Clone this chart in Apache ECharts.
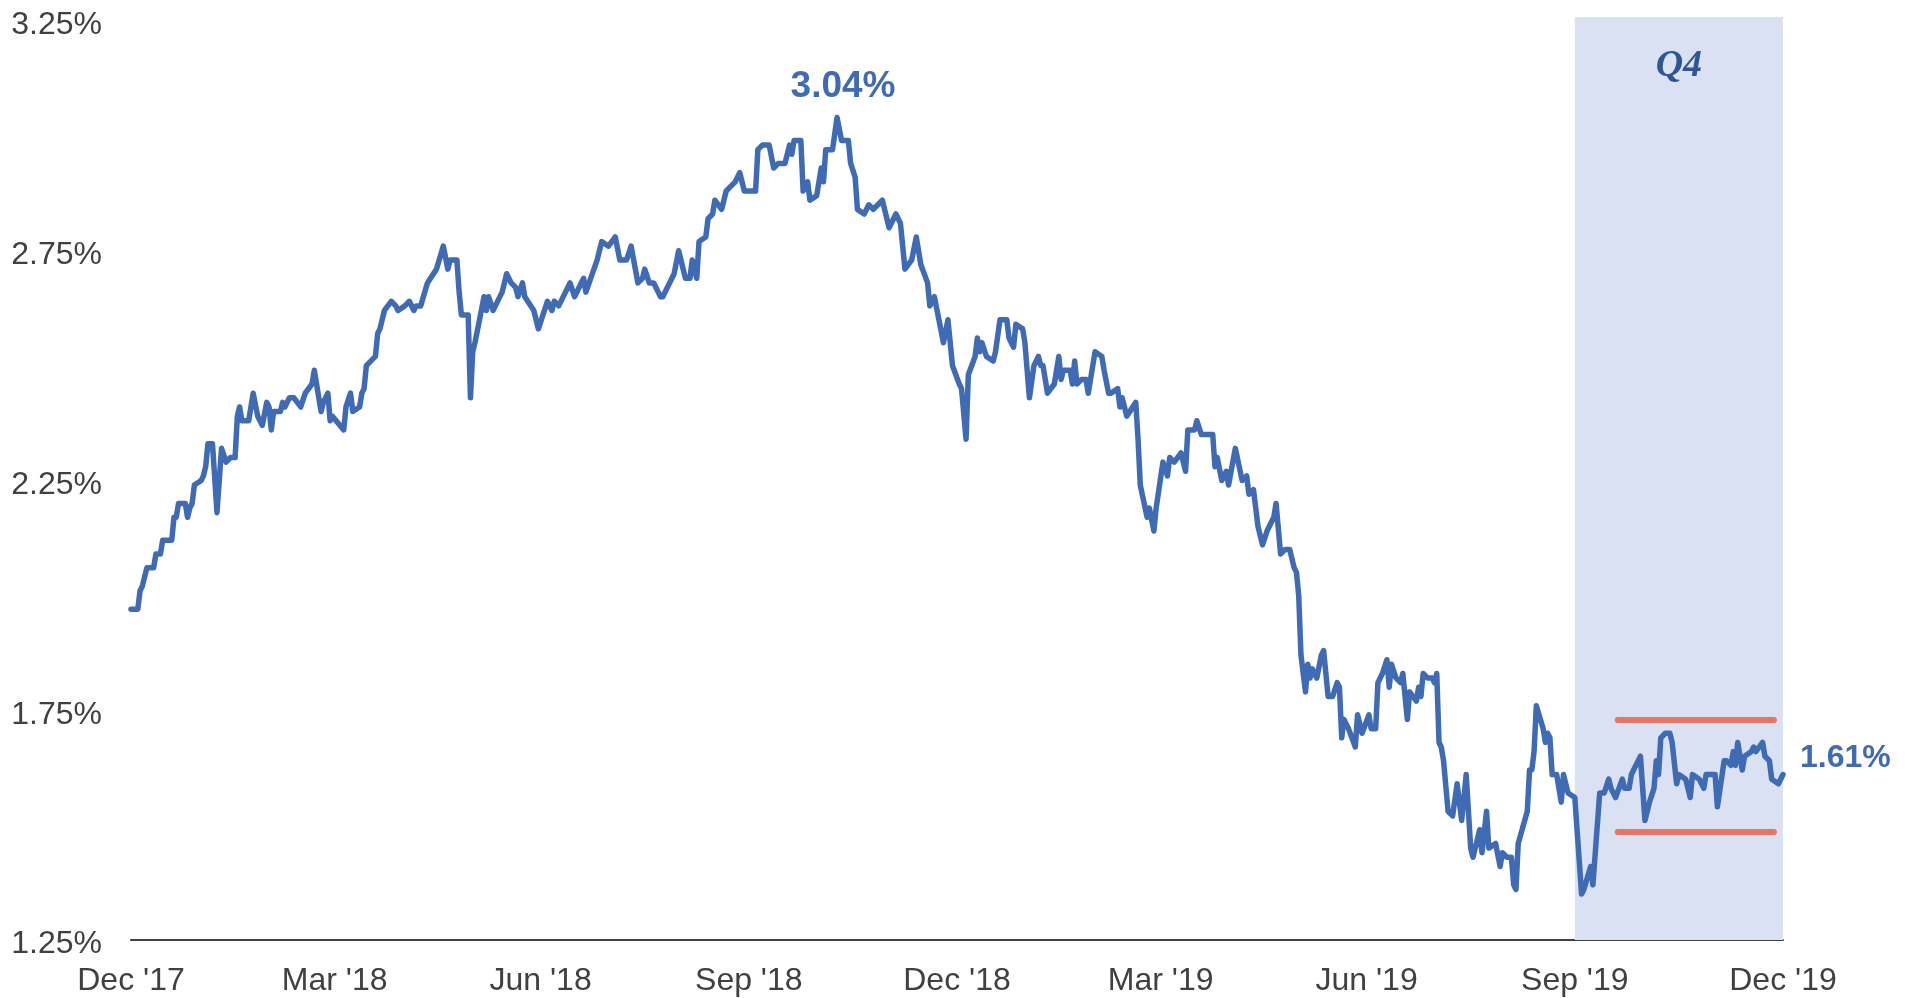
<!DOCTYPE html>
<html>
<head>
<meta charset="utf-8">
<script src="https://cdn.jsdelivr.net/npm/echarts@6/dist/echarts.min.js"></script>
<style>
  html, body { margin: 0; padding: 0; background: #ffffff; }
  #chart { width: 1916px; height: 998px; }
</style>
</head>
<body>
<div id="chart"></div>
<script>
// Yield history, Dec 2017 – Dec 2019 (percent)
const dates = [
  '2017-12-31','2018-01-03','2018-01-04','2018-01-05','2018-01-07','2018-01-10','2018-01-11','2018-01-13','2018-01-14','2018-01-18',
  '2018-01-19','2018-01-20','2018-01-21','2018-01-24','2018-01-25','2018-01-26','2018-01-27','2018-01-28','2018-01-31','2018-02-01',
  '2018-02-02','2018-02-03','2018-02-05','2018-02-07','2018-02-09','2018-02-11','2018-02-13','2018-02-15','2018-02-16','2018-02-17',
  '2018-02-18','2018-02-21','2018-02-23','2018-02-25','2018-02-27','2018-03-01','2018-03-02','2018-03-03','2018-03-04','2018-03-07',
  '2018-03-08','2018-03-09','2018-03-11','2018-03-13','2018-03-16','2018-03-18','2018-03-21','2018-03-22','2018-03-25','2018-03-26',
  '2018-03-28','2018-03-29','2018-03-30','2018-04-04','2018-04-05','2018-04-07','2018-04-08','2018-04-11','2018-04-12','2018-04-13',
  '2018-04-14','2018-04-18','2018-04-19','2018-04-20','2018-04-22','2018-04-25','2018-04-27','2018-04-28','2018-05-01','2018-05-03',
  '2018-05-05','2018-05-06','2018-05-08','2018-05-11','2018-05-15','2018-05-18','2018-05-20','2018-05-21','2018-05-24','2018-05-25',
  '2018-05-26','2018-05-29','2018-05-30','2018-05-31','2018-06-01','2018-06-03','2018-06-05','2018-06-06','2018-06-07','2018-06-09',
  '2018-06-10','2018-06-13','2018-06-15','2018-06-17','2018-06-19','2018-06-20','2018-06-22','2018-06-23','2018-06-27','2018-06-29',
  '2018-07-01','2018-07-03','2018-07-05','2018-07-06','2018-07-08','2018-07-11','2018-07-13','2018-07-15','2018-07-19','2018-07-20',
  '2018-07-25','2018-07-27','2018-07-30','2018-08-02','2018-08-04','2018-08-07','2018-08-09','2018-08-12','2018-08-14','2018-08-15',
  '2018-08-17','2018-08-19','2018-08-22','2018-08-23','2018-08-25','2018-08-28','2018-08-30','2018-09-02','2018-09-04','2018-09-05',
  '2018-09-07','2018-09-08','2018-09-11','2018-09-12','2018-09-14','2018-09-15','2018-09-18','2018-09-20','2018-09-22','2018-09-24',
  '2018-09-26','2018-09-28','2018-10-03','2018-10-04','2018-10-06','2018-10-09','2018-10-11','2018-10-13','2018-10-16','2018-10-18',
  '2018-10-19','2018-10-20','2018-10-23','2018-10-24','2018-10-26','2018-10-27','2018-10-30','2018-11-01','2018-11-02','2018-11-03',
  '2018-11-06','2018-11-08','2018-11-10','2018-11-13','2018-11-14','2018-11-16','2018-11-17','2018-11-20','2018-11-22','2018-11-24',
  '2018-11-28','2018-12-01','2018-12-04','2018-12-06','2018-12-08','2018-12-11','2018-12-13','2018-12-15','2018-12-18','2018-12-19',
  '2018-12-21','2018-12-25','2018-12-27','2018-12-29','2019-01-01','2019-01-02','2019-01-04','2019-01-05','2019-01-08','2019-01-09',
  '2019-01-10','2019-01-11','2019-01-13','2019-01-16','2019-01-17','2019-01-19','2019-01-22','2019-01-23','2019-01-25','2019-01-26',
  '2019-01-29','2019-01-30','2019-02-01','2019-02-03','2019-02-05','2019-02-06','2019-02-07','2019-02-09','2019-02-12','2019-02-14',
  '2019-02-15','2019-02-16','2019-02-19','2019-02-20','2019-02-21','2019-02-22','2019-02-24','2019-02-26','2019-02-27','2019-02-28',
  '2019-03-02','2019-03-05','2019-03-06','2019-03-08','2019-03-09','2019-03-12','2019-03-13','2019-03-14','2019-03-16','2019-03-20',
  '2019-03-21','2019-03-22','2019-03-25','2019-03-26','2019-03-28','2019-03-29','2019-04-01','2019-04-03','2019-04-04','2019-04-06',
  '2019-04-09','2019-04-11','2019-04-12','2019-04-15','2019-04-16','2019-04-18','2019-04-23','2019-04-24','2019-04-25','2019-04-27',
  '2019-04-29','2019-04-30','2019-05-03','2019-05-06','2019-05-08','2019-05-09','2019-05-11','2019-05-13','2019-05-15','2019-05-17',
  '2019-05-20','2019-05-21','2019-05-23','2019-05-25','2019-05-27','2019-05-29','2019-05-30','2019-05-31','2019-06-01','2019-06-03',
  '2019-06-04','2019-06-05','2019-06-06','2019-06-08','2019-06-10','2019-06-11','2019-06-13','2019-06-15','2019-06-17','2019-06-18',
  '2019-06-19','2019-06-20','2019-06-22','2019-06-25','2019-06-26','2019-06-28','2019-07-01','2019-07-02','2019-07-04','2019-07-05',
  '2019-07-07','2019-07-09','2019-07-10','2019-07-11','2019-07-13','2019-07-15','2019-07-16','2019-07-18','2019-07-19','2019-07-22',
  '2019-07-23','2019-07-24','2019-07-25','2019-07-27','2019-07-29','2019-07-30','2019-07-31','2019-08-01','2019-08-02','2019-08-03',
  '2019-08-05','2019-08-07','2019-08-09','2019-08-10','2019-08-11','2019-08-13','2019-08-15','2019-08-16','2019-08-19','2019-08-20',
  '2019-08-22','2019-08-23','2019-08-26','2019-08-28','2019-08-29','2019-08-31','2019-09-02','2019-09-03','2019-09-04','2019-09-05',
  '2019-09-09','2019-09-10','2019-09-11','2019-09-12','2019-09-13','2019-09-16','2019-09-17','2019-09-18','2019-09-19','2019-09-20',
  '2019-09-22','2019-09-24','2019-09-25','2019-09-27','2019-09-30','2019-10-03','2019-10-04','2019-10-07','2019-10-08','2019-10-11',
  '2019-10-13','2019-10-15','2019-10-16','2019-10-18','2019-10-21','2019-10-22','2019-10-24','2019-10-25','2019-10-29','2019-10-31',
  '2019-11-02','2019-11-04','2019-11-05','2019-11-06','2019-11-07','2019-11-09','2019-11-11','2019-11-12','2019-11-14','2019-11-15',
  '2019-11-18','2019-11-20','2019-11-21','2019-11-24','2019-11-26','2019-11-27','2019-11-29','2019-12-01','2019-12-02','2019-12-05',
  '2019-12-06','2019-12-08','2019-12-09','2019-12-10','2019-12-11','2019-12-13','2019-12-14','2019-12-17','2019-12-18','2019-12-19',
  '2019-12-22','2019-12-23','2019-12-25','2019-12-26','2019-12-29','2019-12-31'
];

const yields = [
  1.97,1.97,2.01,2.02,2.06,2.06,2.09,2.09,2.12,2.12,
  2.17,2.17,2.20,2.20,2.17,2.19,2.20,2.24,2.25,2.26,
  2.28,2.33,2.33,2.18,2.32,2.29,2.30,2.30,2.39,2.41,
  2.38,2.38,2.44,2.39,2.37,2.42,2.41,2.36,2.40,2.40,
  2.42,2.41,2.43,2.43,2.41,2.44,2.46,2.49,2.40,2.42,
  2.44,2.38,2.39,2.36,2.41,2.44,2.40,2.41,2.44,2.45,
  2.50,2.52,2.57,2.58,2.62,2.64,2.63,2.62,2.63,2.64,
  2.62,2.63,2.63,2.68,2.71,2.76,2.71,2.73,2.73,2.66,
  2.61,2.61,2.43,2.53,2.55,2.60,2.65,2.62,2.65,2.62,
  2.63,2.66,2.70,2.68,2.67,2.65,2.68,2.65,2.62,2.58,
  2.61,2.64,2.62,2.64,2.63,2.66,2.68,2.65,2.69,2.66,
  2.73,2.77,2.76,2.78,2.73,2.73,2.76,2.68,2.69,2.71,
  2.68,2.68,2.65,2.65,2.67,2.70,2.75,2.69,2.69,2.73,
  2.69,2.77,2.78,2.82,2.83,2.86,2.84,2.88,2.89,2.90,
  2.92,2.88,2.88,2.97,2.98,2.98,2.93,2.94,2.94,2.98,
  2.96,2.99,2.99,2.88,2.90,2.86,2.87,2.93,2.90,2.97,
  2.97,3.04,2.99,2.99,2.94,2.91,2.84,2.83,2.85,2.84,
  2.86,2.80,2.83,2.81,2.71,2.73,2.78,2.72,2.68,2.63,
  2.65,2.55,2.60,2.50,2.46,2.45,2.34,2.48,2.52,2.56,
  2.53,2.55,2.52,2.51,2.53,2.60,2.60,2.56,2.54,2.59,
  2.58,2.55,2.43,2.50,2.52,2.50,2.50,2.44,2.46,2.52,
  2.47,2.49,2.49,2.46,2.51,2.46,2.47,2.47,2.44,2.47,
  2.53,2.52,2.49,2.44,2.44,2.45,2.41,2.43,2.39,2.42,
  2.34,2.24,2.17,2.19,2.14,2.19,2.29,2.26,2.30,2.29,
  2.31,2.27,2.36,2.36,2.38,2.35,2.35,2.28,2.30,2.25,
  2.27,2.24,2.32,2.25,2.26,2.22,2.23,2.15,2.11,2.14,
  2.17,2.20,2.09,2.10,2.10,2.06,2.05,2.00,1.87,1.79,
  1.85,1.82,1.84,1.82,1.87,1.88,1.78,1.78,1.81,1.80,
  1.69,1.73,1.71,1.67,1.74,1.70,1.74,1.71,1.71,1.81,
  1.83,1.86,1.80,1.85,1.82,1.81,1.83,1.73,1.79,1.77,
  1.80,1.78,1.83,1.82,1.82,1.81,1.83,1.68,1.67,1.64,
  1.53,1.52,1.59,1.55,1.51,1.61,1.45,1.43,1.49,1.44,
  1.53,1.45,1.46,1.41,1.44,1.43,1.43,1.37,1.36,1.46,
  1.53,1.62,1.62,1.66,1.76,1.71,1.68,1.70,1.69,1.61,
  1.61,1.55,1.61,1.57,1.56,1.35,1.36,1.41,1.37,1.57,
  1.57,1.60,1.58,1.56,1.60,1.58,1.58,1.61,1.65,1.51,
  1.55,1.58,1.64,1.61,1.69,1.70,1.70,1.68,1.59,1.61,
  1.60,1.56,1.61,1.60,1.58,1.61,1.61,1.61,1.54,1.64,
  1.64,1.63,1.66,1.63,1.68,1.62,1.65,1.66,1.67,1.66,
  1.68,1.65,1.64,1.60,1.59,1.61
];

// Axis ticks (quarter ends) and their labels
const xTickDates  = ['2017-12-31','2018-03-31','2018-06-30','2018-09-30','2018-12-31','2019-03-31','2019-06-30','2019-09-30','2019-12-31'];
const xTickLabels = ["Dec '17","Mar '18","Jun '18","Sep '18","Dec '18","Mar '19","Jun '19","Sep '19","Dec '19"];
const yTicks = [1.25, 1.75, 2.25, 2.75, 3.25];

// Highlighted quarter and its trading range
const quarterSpan  = ['2019-09-30', '2019-12-31'];
const quarterName  = 'Q4';
const rangeSpan    = ['2019-10-19', '2019-12-27'];
const rangeLevels  = [1.73, 1.485];

// Annotated point: the cycle high
const peakDate = '2018-11-08';

const FONT = "'Liberation Sans', Arial, sans-serif";
const BLUE = '#3f6bb5';
const GREY = '#404040';

const ts = d => Date.parse(d);
const lineData = dates.map((d, i) => [ts(d), yields[i]]);
const tickLabelByTime = {};
xTickDates.forEach((d, i) => { tickLabelByTime[ts(d)] = xTickLabels[i]; });

const peakIdx = dates.indexOf(peakDate);
const lastIdx = dates.length - 1;

const chart = echarts.init(document.getElementById('chart'), null, { renderer: 'canvas' });

chart.setOption({
  animation: false,
  backgroundColor: '#ffffff',
  // plot headroom: the shaded quarter reaches slightly above the top tick
  grid: { left: 131, right: 133, top: 17, bottom: 58, containLabel: false },
  xAxis: {
    type: 'value',
    min: ts(xTickDates[0]),
    max: ts(xTickDates[xTickDates.length - 1]),
    splitLine: { show: false },
    axisTick: { show: false },
    axisLine: { show: true, lineStyle: { color: GREY, width: 2 } },
    axisLabel: {
      customValues: xTickDates.map(ts),
      formatter: v => tickLabelByTime[v] || '',
      color: GREY,
      fontFamily: FONT,
      fontSize: 32,
      margin: 25
    }
  },
  yAxis: {
    type: 'value',
    min: yTicks[0],
    max: yTicks[yTicks.length - 1] + 0.0087,
    splitLine: { show: false },
    axisTick: { show: false },
    axisLine: { show: false },
    axisLabel: {
      customValues: yTicks,
      formatter: v => v.toFixed(2) + '%',
      color: GREY,
      fontFamily: FONT,
      fontSize: 32,
      verticalAlign: 'top',
      lineHeight: 9,
      margin: 29
    }
  },
  series: [
    {
      // shaded quarter, drawn beneath the yield line
      type: 'line',
      data: [],
      z: 1,
      silent: true,
      markArea: {
        silent: true,
        itemStyle: { color: '#d9e1f2' },
        label: {
          show: true,
          position: 'insideTop',
          distance: 30,
          formatter: quarterName,
          color: '#2f5597',
          fontFamily: "'Liberation Serif', 'DejaVu Serif', serif",
          fontStyle: 'italic',
          fontWeight: 'bold',
          fontSize: 38
        },
        data: [[{ xAxis: ts(quarterSpan[0]) }, { xAxis: ts(quarterSpan[1]) }]]
      }
    },
    {
      type: 'line',
      data: lineData,
      z: 3,
      showSymbol: false,
      silent: true,
      lineStyle: { color: BLUE, width: 5.5, join: 'round', cap: 'round' },
      markLine: {
        silent: true,
        symbol: ['none', 'none'],
        label: { show: false },
        lineStyle: { color: '#e97462', width: 6, type: 'solid', cap: 'round' },
        data: rangeLevels.map(lv => [
          { coord: [ts(rangeSpan[0]), lv] },
          { coord: [ts(rangeSpan[1]), lv] }
        ])
      },
      markPoint: {
        silent: true,
        symbol: 'circle',
        symbolSize: 0,
        itemStyle: { color: 'transparent' },
        data: [
          {
            coord: lineData[peakIdx],
            value: yields[peakIdx],
            label: {
              show: true,
              position: 'inside',
              offset: [6, -31],
              formatter: p => p.value.toFixed(2) + '%',
              color: BLUE,
              fontFamily: FONT,
              fontWeight: 'bold',
              fontSize: 37
            }
          },
          {
            coord: lineData[lastIdx],
            value: yields[lastIdx],
            label: {
              show: true,
              position: 'right',
              distance: 17,
              offset: [0, -16],
              formatter: p => p.value.toFixed(2) + '%',
              color: BLUE,
              fontFamily: FONT,
              fontWeight: 'bold',
              fontSize: 32
            }
          }
        ]
      }
    }
  ]
});
</script>
</body>
</html>
